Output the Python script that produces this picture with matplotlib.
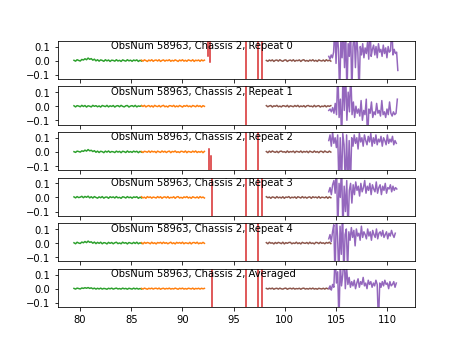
import numpy as np
import matplotlib
matplotlib.use('Agg')
import matplotlib.pyplot as plt

# Panel titles
titles = ['ObsNum 58963, Chassis 2, Repeat 0',
          'ObsNum 58963, Chassis 2, Repeat 1',
          'ObsNum 58963, Chassis 2, Repeat 2',
          'ObsNum 58963, Chassis 2, Repeat 3',
          'ObsNum 58963, Chassis 2, Repeat 4',
          'ObsNum 58963, Chassis 2, Averaged']

# Frequency span of each band (GHz)
green_span = (79.4, 86.0)
orange_span = (86.0, 92.15)
brown_span = (98.2, 104.5)
purple_ends = [111.05, 111.0, 110.9, 110.95, 110.8, 110.9]
purple_start = 104.3

# Green band values
green = [
    [0.002, -0.004, 0.006, 0.001, -0.003, 0.008, 0.004, 0.013, 0.006, 0.018, 0.009, 0.014, 0.003, 0.010, -0.002, 0.006,
     -0.004, 0.005, 0.001, -0.005, 0.006, -0.002, 0.004, -0.006, 0.003, 0.001, -0.004, 0.006, -0.003, 0.002, -0.006, 0.005,
     0.000, -0.004, 0.006, -0.002, 0.003, -0.005, 0.004, -0.001, 0.005, -0.006, 0.002, -0.003],
    [0.003, -0.005, 0.004, 0.001, -0.004, 0.006, -0.002, 0.005, -0.006, 0.003, 0.000, -0.005, 0.006, -0.001, 0.004, -0.004,
     0.002, -0.006, 0.005, 0.001, -0.003, 0.006, -0.005, 0.003, -0.002, 0.005, -0.006, 0.002, 0.004, -0.004, 0.006, -0.001,
     -0.005, 0.003, 0.005, -0.006, 0.001, 0.004, -0.003, 0.006, -0.005, 0.002, -0.001, 0.004],
    [0.001, -0.004, 0.005, 0.002, -0.002, 0.007, 0.003, 0.012, 0.005, 0.016, 0.007, 0.011, 0.002, 0.008, -0.003, 0.005,
     -0.005, 0.004, 0.001, -0.006, 0.005, -0.002, 0.006, -0.004, 0.002, 0.000, -0.005, 0.005, -0.002, 0.003, -0.006, 0.004,
     0.001, -0.005, 0.006, -0.003, 0.002, -0.004, 0.005, -0.001, 0.004, -0.006, 0.003, -0.002],
    [0.004, -0.003, 0.006, -0.001, 0.002, 0.008, -0.002, 0.007, 0.001, 0.009, -0.003, 0.005, -0.004, 0.006, 0.000, -0.005,
     0.004, -0.002, 0.006, -0.005, 0.002, 0.003, -0.006, 0.005, -0.001, 0.004, -0.004, 0.006, -0.003, 0.001, -0.006, 0.005,
     0.002, -0.004, 0.006, -0.002, 0.003, -0.005, 0.004, 0.000, 0.005, -0.006, 0.002, -0.003],
    [0.002, -0.005, 0.006, 0.000, -0.003, 0.007, 0.002, 0.011, 0.003, 0.014, 0.005, 0.009, -0.001, 0.007, -0.004, 0.005,
     -0.002, 0.006, -0.005, 0.003, 0.001, -0.006, 0.005, -0.002, 0.004, -0.005, 0.002, 0.006, -0.004, 0.001, -0.005, 0.006,
     -0.001, 0.003, -0.006, 0.004, 0.000, -0.004, 0.005, -0.003, 0.006, -0.005, 0.002, -0.002],
    [0.002, -0.003, 0.004, 0.001, -0.002, 0.005, 0.002, 0.007, 0.003, 0.008, 0.002, 0.006, -0.001, 0.004, -0.003, 0.003,
     -0.002, 0.004, -0.003, 0.002, 0.000, -0.004, 0.003, -0.001, 0.004, -0.003, 0.001, 0.004, -0.002, 0.001, -0.003, 0.004,
     -0.001, 0.002, -0.004, 0.003, 0.000, -0.003, 0.004, -0.002, 0.003, -0.003, 0.001, -0.002],
]

# Orange band values
orange = [
    [0.003, -0.004, 0.005, 0.000, -0.006, 0.004, -0.002, 0.006, -0.005, 0.002, 0.004, -0.003, 0.006, -0.006, 0.001, 0.005,
     -0.004, 0.003, -0.001, 0.006, -0.005, 0.002, -0.003, 0.005, 0.000, -0.006, 0.004, -0.002, 0.006, -0.004, 0.002, -0.005,
     0.005, 0.001, -0.003, 0.006, -0.006, 0.003, -0.001, 0.004, -0.005, 0.005, -0.002, 0.003],
    [0.004, -0.002, 0.006, -0.005, 0.001, 0.005, -0.004, 0.003, -0.006, 0.006, 0.000, -0.003, 0.005, -0.005, 0.002, 0.006,
     -0.004, 0.001, -0.006, 0.004, 0.003, -0.002, 0.006, -0.005, 0.002, -0.004, 0.005, 0.000, -0.006, 0.004, -0.001, 0.006,
     -0.003, 0.002, -0.005, 0.005, 0.001, -0.004, 0.006, -0.002, 0.003, -0.006, 0.004, -0.001],
    [0.002, -0.005, 0.004, 0.001, -0.003, 0.006, -0.004, 0.005, -0.001, 0.003, -0.006, 0.005, 0.000, -0.004, 0.006, -0.002,
     0.004, -0.005, 0.002, 0.005, -0.006, 0.003, -0.001, 0.006, -0.004, 0.001, -0.005, 0.004, 0.002, -0.003, 0.006, -0.006,
     0.003, 0.000, -0.004, 0.005, -0.002, 0.006, -0.005, 0.002, -0.003, 0.004, -0.006, 0.003],
    [0.005, -0.003, 0.002, -0.006, 0.006, -0.001, 0.004, -0.005, 0.003, 0.000, -0.004, 0.006, -0.002, 0.005, -0.006, 0.002,
     0.004, -0.003, 0.006, -0.005, 0.001, -0.002, 0.005, -0.006, 0.003, 0.006, -0.004, 0.001, -0.005, 0.004, -0.001, 0.006,
     -0.004, 0.002, -0.006, 0.005, 0.000, -0.003, 0.004, -0.005, 0.006, -0.002, 0.003, -0.004],
    [0.003, -0.006, 0.005, -0.002, 0.004, 0.001, -0.005, 0.006, -0.003, 0.002, -0.006, 0.004, 0.000, 0.005, -0.004, 0.006,
     -0.002, 0.003, -0.005, 0.001, 0.006, -0.004, 0.002, -0.006, 0.005, -0.001, 0.004, -0.003, 0.006, -0.005, 0.002, 0.000,
     -0.004, 0.005, -0.006, 0.003, 0.004, -0.002, 0.006, -0.005, 0.001, -0.003, 0.005, -0.002],
    [0.002, -0.003, 0.004, 0.000, -0.004, 0.003, -0.001, 0.004, -0.003, 0.002, 0.003, -0.002, 0.004, -0.004, 0.001, 0.003,
     -0.003, 0.002, -0.001, 0.004, -0.003, 0.001, -0.002, 0.004, 0.000, -0.004, 0.003, -0.001, 0.004, -0.003, 0.001, -0.003,
     0.003, 0.001, -0.002, 0.004, -0.004, 0.002, -0.001, 0.003, -0.003, 0.003, -0.001, 0.002],
]

# Brown band values
brown = [
    [0.001, -0.005, 0.004, -0.002, 0.005, -0.006, 0.002, 0.004, -0.004, 0.006, -0.001, -0.005, 0.003, 0.005, -0.006, 0.001,
     0.004, -0.003, 0.006, -0.005, 0.002, -0.001, 0.005, -0.006, 0.003, 0.006, -0.004, 0.001, -0.005, 0.004, -0.002, 0.006,
     -0.004, 0.002, -0.006, 0.005, 0.000, -0.003, 0.004, -0.005, 0.006, -0.002, 0.003, -0.004],
    [0.004, -0.004, 0.002, 0.005, -0.006, 0.003, -0.001, 0.006, -0.004, 0.001, -0.005, 0.004, 0.002, -0.003, 0.006, -0.006,
     0.003, 0.000, -0.004, 0.005, -0.002, 0.006, -0.005, 0.002, -0.003, 0.004, -0.006, 0.003, 0.005, -0.002, 0.001, -0.005,
     0.006, -0.004, 0.002, 0.004, -0.006, 0.001, -0.003, 0.005, -0.005, 0.003, -0.001, 0.004],
    [0.002, -0.006, 0.005, -0.003, 0.006, 0.000, -0.004, 0.004, -0.006, 0.003, 0.005, -0.002, 0.001, -0.005, 0.006, -0.004,
     0.002, -0.001, 0.005, -0.006, 0.004, 0.001, -0.003, 0.006, -0.005, 0.003, -0.002, 0.004, -0.006, 0.005, 0.000, -0.004,
     0.006, -0.003, 0.002, -0.006, 0.004, 0.003, -0.005, 0.006, -0.001, -0.004, 0.005, -0.002],
    [0.005, -0.002, 0.003, -0.006, 0.004, 0.001, -0.005, 0.006, -0.003, 0.002, -0.004, 0.005, -0.006, 0.003, 0.000, 0.006,
     -0.005, 0.002, -0.002, 0.004, -0.006, 0.005, 0.001, -0.004, 0.006, -0.003, 0.003, -0.005, 0.002, 0.004, -0.006, 0.005,
     -0.001, 0.003, -0.004, 0.006, -0.005, 0.002, 0.000, -0.003, 0.005, -0.006, 0.004, -0.002],
    [0.003, -0.005, 0.006, -0.001, 0.002, -0.006, 0.004, -0.003, 0.005, 0.001, -0.004, 0.006, -0.006, 0.003, -0.002, 0.004,
     0.005, -0.005, 0.001, -0.003, 0.006, -0.004, 0.002, -0.006, 0.005, 0.000, -0.002, 0.004, -0.005, 0.006, -0.003, 0.001,
     -0.006, 0.005, 0.003, -0.004, 0.006, -0.002, 0.002, -0.005, 0.004, -0.001, 0.006, -0.004],
    [0.002, -0.003, 0.003, -0.001, 0.004, -0.004, 0.001, 0.003, -0.003, 0.004, -0.001, -0.003, 0.002, 0.004, -0.004, 0.001,
     0.003, -0.002, 0.004, -0.003, 0.001, -0.001, 0.003, -0.004, 0.002, 0.004, -0.003, 0.001, -0.003, 0.003, -0.002, 0.004,
     -0.003, 0.001, -0.004, 0.003, 0.000, -0.002, 0.003, -0.003, 0.004, -0.001, 0.002, -0.003],
]

# Purple band values (values beyond +-0.2 run off the axes)
purple = [
    [0.03, 0.01, 0.04, 0.02, 0.06, 0.25, -0.02, 0.2, 0.08, -0.25, 0.15, 0.02, 0.25, -0.05, 0.2, -0.25, 0.12, 0.03, 0.25,
     -0.25, 0.1, 0.2, -0.05, 0.18, 0.06, -0.25, 0.1, 0.04, 0.12, 0.02, 0.09, 0.05, 0.13, 0.01, 0.25, 0.03, 0.08, 0.11,
     0.04, 0.1, 0.02, 0.12, 0.06, 0.08, 0.03, 0.11, 0.05, 0.09, 0.02, 0.1, 0.06, 0.07, 0.25, 0.04, 0.08, 0.05, 0.06, -0.07],
    [-0.03, -0.02, -0.04, -0.01, -0.05, 0.02, -0.06, 0.25, -0.08, 0.05, -0.25, 0.25, -0.03, 0.25, -0.1, 0.1, -0.04, 0.25,
     -0.06, 0.03, -0.08, 0.0, -0.05, -0.02, -0.07, 0.04, -0.1, -0.03, -0.06, 0.05, -0.25, -0.02, -0.05, 0.03, -0.08,
     -0.04, -0.06, 0.02, -0.05, -0.03, -0.07, 0.04, -0.06, -0.04, -0.08, -0.02, -0.06, 0.03, -0.05, -0.07, -0.04, -0.06,
     -0.05, 0.05],
    [0.08, 0.12, 0.04, 0.14, 0.06, 0.1, 0.03, 0.12, -0.25, 0.1, -0.25, 0.13, 0.05, -0.25, 0.12, -0.25, 0.08, -0.25, 0.1,
     0.04, 0.12, 0.06, 0.1, 0.02, 0.13, 0.07, 0.1, 0.04, 0.12, 0.08, 0.05, 0.11, 0.07, 0.13, 0.04, 0.1, 0.06, 0.12, 0.05,
     0.09, 0.07, 0.11, 0.04, 0.1, 0.08, 0.05, 0.12, 0.06, 0.09, 0.07, 0.11, 0.05, 0.08, 0.06],
    [0.04, 0.07, 0.02, 0.09, 0.12, 0.03, 0.25, -0.25, 0.1, 0.0, 0.25, -0.25, 0.08, -0.1, 0.12, -0.25, 0.05, 0.1, -0.04,
     0.09, 0.02, 0.11, 0.05, 0.08, 0.01, 0.1, 0.04, 0.07, 0.12, 0.03, 0.08, 0.05, 0.1, 0.02, 0.09, 0.06, 0.04, 0.11, 0.03,
     0.07, 0.09, 0.02, 0.08, 0.05, 0.1, 0.03, 0.07, 0.06, 0.09, 0.04, 0.08, 0.05, 0.07, 0.06],
    [0.03, 0.06, 0.01, 0.08, 0.13, -0.25, 0.2, 0.05, -0.25, 0.12, -0.08, 0.25, -0.25, 0.06, 0.1, -0.2, 0.08, 0.02, 0.11,
     0.04, 0.09, -0.02, 0.1, 0.05, 0.07, 0.02, 0.12, 0.04, 0.08, 0.06, 0.03, 0.1, 0.05, 0.08, 0.02, 0.09, 0.06, 0.04, 0.1,
     0.03, 0.07, 0.08, 0.05, 0.09, 0.04, 0.06, 0.08, 0.03, 0.07, 0.05, 0.09, 0.06, 0.04, 0.07],
    [0.0, 0.02, -0.01, 0.03, 0.01, 0.25, 0.04, 0.12, -0.25, 0.2, 0.02, 0.1, 0.25, 0.0, 0.15, 0.03, 0.08, 0.01, 0.05, 0.02,
     0.06, 0.0, 0.04, 0.07, 0.01, 0.05, 0.03, 0.08, 0.02, 0.04, 0.0, 0.06, 0.03, 0.05, 0.01, 0.04, 0.02, 0.06, 0.03, -0.25,
     0.04, 0.01, 0.05, 0.02, 0.06, 0.03, 0.04, 0.0, 0.05, 0.02, 0.03, 0.05, 0.01, 0.04],
]

# Red band: spikes as (frequency, top value, bottom value); the rest is off scale
red_spikes = [
    [(92.5, 1.0, 0.03), (92.72, 1.0, -0.01), (96.25, 1.0, -1.0), (97.4, 1.0, -1.0), (97.78, 1.0, -1.0)],
    [(96.25, 1.0, -1.0)],
    [(92.55, 0.02, -1.0), (92.8, -0.03, -1.0), (96.25, 1.0, -1.0), (97.4, 1.0, -1.0)],
    [(92.9, 1.0, -1.0), (96.25, 1.0, -1.0), (97.4, 1.0, -1.0), (97.75, 1.0, -1.0)],
    [(96.25, 1.0, -1.0), (97.4, 1.0, -1.0)],
    [(92.9, 1.0, -1.0), (96.25, 1.0, -1.0), (97.4, 1.0, -1.0), (97.75, 1.0, -1.0)],
]

fig, axs = plt.subplots(6, 1, figsize=(6.4, 4.8), dpi=72, sharex=True)

for i, ax in enumerate(axs):
    g = green[i]
    ax.plot(np.linspace(*green_span, len(g)), g, color='tab:green')
    o = orange[i]
    ax.plot(np.linspace(*orange_span, len(o)), o, color='tab:orange')

    # red spikes, separated by nan
    rx, ry = [], []
    for f, top, bot in red_spikes[i]:
        rx += [f, f, np.nan]
        ry += [top, bot, np.nan]
    ax.plot(rx, ry, color='tab:red')

    b = brown[i]
    ax.plot(np.linspace(*brown_span, len(b)), b, color='tab:brown')
    p = purple[i]
    ax.plot(np.linspace(purple_start, purple_ends[i], len(p)), p, color='tab:purple')

    ax.set_ylim(-0.13, 0.14)
    ax.set_yticks([-0.1, 0.0, 0.1])
    ax.set_xlim(77.8, 112.7)
    ax.text(0.15, 0.8, titles[i], transform=ax.transAxes)

axs[-1].set_xticks([80, 85, 90, 95, 100, 105, 110])

fig.savefig('out.png')
